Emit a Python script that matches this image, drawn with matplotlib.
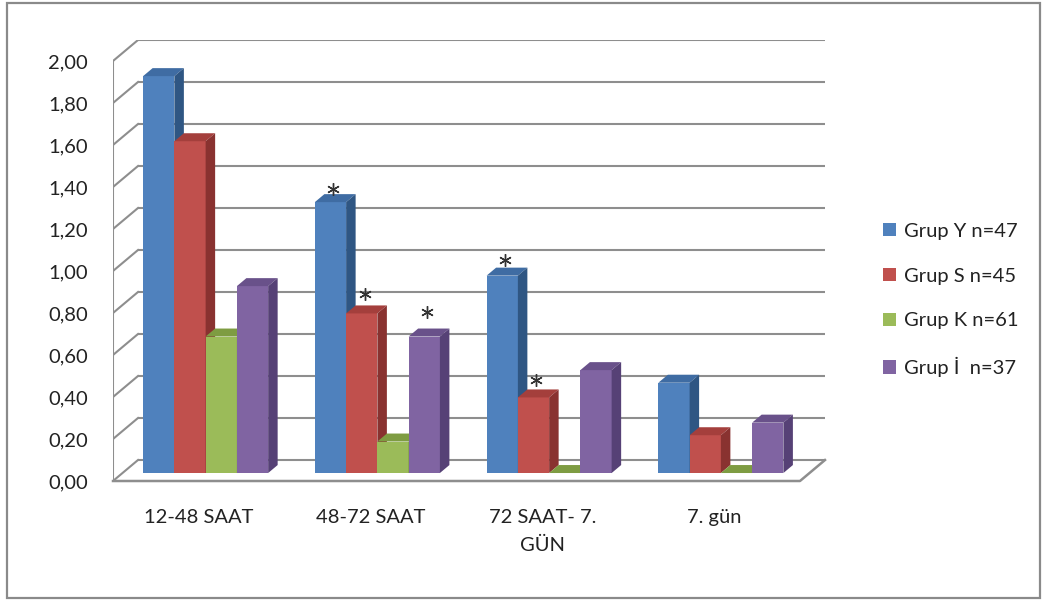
import numpy as np
import matplotlib
matplotlib.use("Agg")
import matplotlib.pyplot as plt
from matplotlib.patches import Polygon, Rectangle, Patch
from matplotlib.transforms import offset_copy

plt.rcParams['font.family'] = ['Lato', 'DejaVu Sans']

# ---- data ----
categories = ["12-48 SAAT", "48-72 SAAT", "72 SAAT- 7.\nGÜN", "7. gün"]
series_names = ["Grup Y n=47", "Grup S n=45", "Grup K n=61", "Grup İ  n=37"]
grup_y = [1.89, 1.29, 0.94, 0.43]
grup_s = [1.58, 0.76, 0.36, 0.18]
grup_k = [0.65, 0.15, 0.00, 0.00]
grup_i = [0.89, 0.65, 0.49, 0.24]
y_ticks = [0.0, 0.2, 0.4, 0.6, 0.8, 1.0, 1.2, 1.4, 1.6, 1.8, 2.0]
# bars flagged as significant: (category index, series index)
starred = [(1, 0), (1, 1), (1, 3), (2, 0), (2, 1)]
# height of each asterisk above its bar, in pixels
star_lift = [13, 19, 25, 16, 17]

series = [grup_y, grup_s, grup_k, grup_i]

# face colours: front, top, side
palette = [
    ("#4F81BD", "#3F6CA3", "#2F5683"),
    ("#C0504D", "#A43F3C", "#893230"),
    ("#9BBB59", "#7E9C42", "#6C8736"),
    ("#8064A2", "#69518A", "#564176"),
]

# ---- oblique 3-D projection parameters ----
DX = 0.1456     # full wall depth, category units
DY = 0.10       # full wall depth, value units
BAR_F0 = 0.38   # depth of bar front face (fraction of wall)
BAR_D = 0.38    # bar depth (fraction of wall)
BAR_W = 0.182   # bar width, category units
GROUP_OFF = 0.12

W, H = 1045, 601
fig = plt.figure(figsize=(W / 100, H / 100), dpi=100)
ax = fig.add_axes([113 / W, (H - 481) / H, 712 / W, 441 / H])
ax.set_xlim(-0.5, 3.5 + DX)
ax.set_ylim(0, 2.0 + DY)
for s in ax.spines.values():
    s.set_visible(False)

grid_c = "#8E8E8E"
gl = 1.5
ymax = y_ticks[-1]
# back wall gridlines and side wall lines
for v in y_ticks:
    ax.plot([-0.5 + DX, 3.5 + DX], [v + DY, v + DY], color=grid_c, lw=gl,
            solid_capstyle="butt", zorder=1)
    ax.plot([-0.5, -0.5 + DX], [v, v + DY], color=grid_c, lw=gl, zorder=1)
# side wall front edge
ax.plot([-0.5, -0.5], [0, ymax], color=grid_c, lw=gl, zorder=1)
# floor outline
ax.plot([-0.5, 3.5, 3.5 + DX], [0, 0, DY], color=grid_c, lw=gl + 0.3,
        zorder=1, clip_on=False)

# bars
z = 2
for i in range(len(categories)):
    for j, vals in enumerate(series):
        v = vals[i]
        front, top, side = palette[j]
        x0 = i - 0.5 + GROUP_OFF + j * BAR_W + BAR_F0 * DX
        y0 = BAR_F0 * DY
        ddx, ddy = BAR_D * DX, BAR_D * DY
        ax.add_patch(Rectangle((x0, y0), BAR_W, v, facecolor=front,
                               edgecolor="none", zorder=z))
        ax.add_patch(Polygon([(x0, y0 + v), (x0 + BAR_W, y0 + v),
                              (x0 + BAR_W + ddx, y0 + v + ddy),
                              (x0 + ddx, y0 + v + ddy)],
                             closed=True, facecolor=top, edgecolor="none",
                             zorder=z))
        ax.add_patch(Polygon([(x0 + BAR_W, y0), (x0 + BAR_W, y0 + v),
                              (x0 + BAR_W + ddx, y0 + v + ddy),
                              (x0 + BAR_W + ddx, y0 + ddy)],
                             closed=True, facecolor=side, edgecolor="none",
                             zorder=z))
        if (i, j) in starred:
            lift = star_lift[starred.index((i, j))]
            tr = offset_copy(ax.transData, fig=fig, x=3, y=lift, units="dots")
            ax.plot([x0 + BAR_W / 2], [y0 + v], transform=tr,
                    marker=(6, 2, 0), markersize=9, mew=1.0,
                    color="#333333", zorder=z + 1, clip_on=False)
        z += 1

# axis labels
ax.set_yticks(y_ticks)
ax.set_yticklabels([f"{t:.2f}".replace(".", ",") for t in y_ticks])
ax.set_xticks(range(len(categories)))
ax.set_xticklabels(categories, linespacing=1.75)
ax.tick_params(axis="y", length=0, pad=18, labelsize=14.5, labelcolor="#222222")
ax.tick_params(axis="x", length=0, pad=20, labelsize=14.5, labelcolor="#222222")

# legend
handles = [Patch(facecolor=c[0], edgecolor="none") for c in palette]
fig.legend(handles, series_names, loc="center left",
           bbox_to_anchor=(873 / W, 1 - 300 / H), frameon=False,
           fontsize=14.5, handlelength=0.65, handleheight=0.65,
           handletextpad=0.4, labelspacing=1.38, borderpad=0,
           labelcolor="#222222")

# outer frame
fig.add_artist(Rectangle((7 / W, 3 / H), 1033 / W, 595 / H,
                         transform=fig.transFigure, fill=False,
                         edgecolor="#8A8A8A", lw=1.6))

fig.savefig("out.png", dpi=100)
